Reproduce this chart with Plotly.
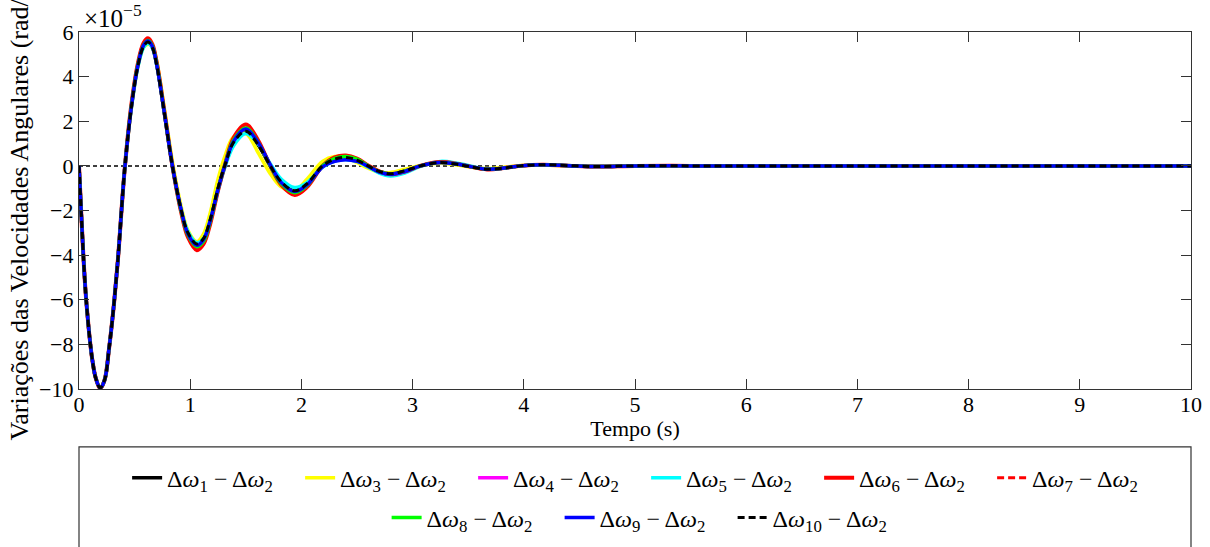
import plotly.graph_objects as go

# Time base (s)
t = [0, 0.02, 0.04, 0.06, 0.08, 0.10, 0.12, 0.15, 0.19, 0.23, 0.27, 0.31, 0.35, 0.41,
     0.47, 0.53, 0.58, 0.62, 0.66, 0.70, 0.77, 0.84, 0.92, 0.98,
     1.06, 1.12, 1.18, 1.25, 1.31, 1.39, 1.50, 1.61, 1.72, 1.82,
     1.94, 2.05, 2.19, 2.30, 2.40, 2.50, 2.60, 2.70, 2.80, 2.93,
     3.07, 3.25, 3.40, 3.50, 3.67, 3.82, 3.97, 4.17, 4.40, 4.65,
     5.0, 5.5, 6, 7, 8, 9, 10]

# Angular speed deviations relative to machine 2 (x 1e-5 rad/s)
dw1 = [0, -2.1, -4.1, -5.7, -6.9, -7.9, -8.7, -9.5, -9.95, -9.6, -8.2, -6.4, -4.2, -0.2,
       2.6, 4.5, 5.35, 5.55, 5.3, 4.5, 2.3, 0.0, -2.0, -3.0,
       -3.5, -3.25, -2.4, -1.0, 0.0, 1.05, 1.55, 0.95, 0.0, -0.72,
       -1.12, -0.8, 0.0, 0.3, 0.38, 0.26, 0.0, -0.25, -0.35, -0.22,
       0.0, 0.15, 0.07, -0.02, -0.15, -0.1, 0.0, 0.05, 0.01, -0.03,
       0, 0, 0, 0, 0, 0, 0]
dw3 = [0, -2.1, -4.1, -5.7, -6.9, -7.9, -8.7, -9.5, -9.95, -9.6, -8.2, -6.4, -4.2, -0.2,
       2.55, 4.45, 5.3, 5.45, 5.35, 4.65, 2.5, 0.2, -1.85, -2.9,
       -3.4, -3.05, -2.1, -0.6, 0.4, 1.3, 1.45, 0.6, -0.35, -0.95,
       -1.1, -0.6, 0.2, 0.42, 0.38, 0.15, -0.1, -0.28, -0.3, -0.15,
       0.02, 0.12, 0.04, -0.04, -0.12, -0.06, 0.02, 0.04, 0.0, -0.02,
       0, 0, 0, 0, 0, 0, 0]
dw4 = [0, -2.1, -4.1, -5.7, -6.9, -7.9, -8.7, -9.5, -9.95, -9.6, -8.2, -6.4, -4.2, -0.2,
       2.65, 4.55, 5.4, 5.6, 5.38, 4.55, 2.3, 0.0, -2.05, -3.1,
       -3.6, -3.35, -2.5, -1.05, 0.0, 1.12, 1.68, 1.05, 0.0, -0.8,
       -1.18, -0.86, 0.0, 0.32, 0.4, 0.28, 0.0, -0.26, -0.36, -0.23,
       0.0, 0.15, 0.08, -0.01, -0.15, -0.1, 0.0, 0.05, 0.01, -0.03,
       0, 0, 0, 0, 0, 0, 0]
dw5 = [0, -2.1, -4.1, -5.7, -6.9, -7.9, -8.7, -9.5, -9.95, -9.6, -8.2, -6.4, -4.2, -0.2,
       2.55, 4.45, 5.3, 5.5, 5.3, 4.5, 2.3, 0.0, -2.0, -2.95,
       -3.45, -3.25, -2.45, -1.1, -0.1, 0.9, 1.45, 1.0, 0.1, -0.6,
       -0.97, -0.75, -0.05, 0.22, 0.28, 0.2, -0.05, -0.32, -0.45, -0.32,
       -0.02, 0.2, 0.12, 0.02, -0.14, -0.1, 0.0, 0.05, 0.02, -0.02,
       0, 0, 0, 0, 0, 0, 0]
dw6 = [0, -2.1, -4.1, -5.7, -6.9, -7.9, -8.7, -9.5, -9.98, -9.6, -8.2, -6.4, -4.2, -0.2,
       2.7, 4.6, 5.5, 5.72, 5.45, 4.6, 2.35, 0.0, -2.1, -3.2,
       -3.78, -3.5, -2.6, -1.1, 0.0, 1.25, 1.85, 1.15, 0.0, -0.85,
       -1.3, -0.95, 0.0, 0.38, 0.46, 0.33, 0.02, -0.25, -0.38, -0.25,
       0.0, 0.17, 0.09, -0.01, -0.16, -0.1, 0.0, 0.05, 0.01, -0.03,
       0, 0, 0, 0, 0, 0, 0]
dw7 = [0, -2.1, -4.1, -5.7, -6.9, -7.9, -8.7, -9.5, -9.97, -9.6, -8.2, -6.4, -4.2, -0.2,
       2.7, 4.6, 5.48, 5.68, 5.42, 4.58, 2.33, 0.0, -2.08, -3.15,
       -3.72, -3.45, -2.56, -1.08, 0.0, 1.2, 1.78, 1.1, 0.0, -0.82,
       -1.25, -0.92, 0.0, 0.36, 0.44, 0.31, 0.01, -0.25, -0.37, -0.24,
       0.0, 0.16, 0.08, -0.01, -0.15, -0.1, 0.0, 0.05, 0.01, -0.03,
       0, 0, 0, 0, 0, 0, 0]
dw8 = [0, -2.1, -4.1, -5.7, -6.9, -7.9, -8.7, -9.5, -9.95, -9.6, -8.2, -6.4, -4.2, -0.2,
       2.65, 4.55, 5.4, 5.62, 5.38, 4.55, 2.3, 0.0, -2.05, -3.1,
       -3.62, -3.38, -2.5, -1.05, 0.0, 1.15, 1.7, 1.05, 0.0, -0.8,
       -1.2, -0.88, 0.0, 0.33, 0.42, 0.3, 0.0, -0.26, -0.36, -0.23,
       0.0, 0.15, 0.08, -0.01, -0.15, -0.1, 0.0, 0.05, 0.01, -0.03,
       0, 0, 0, 0, 0, 0, 0]
dw9 = [0, -2.1, -4.1, -5.7, -6.9, -7.9, -8.7, -9.5, -9.95, -9.6, -8.2, -6.4, -4.2, -0.2,
       2.6, 4.5, 5.4, 5.6, 5.35, 4.5, 2.3, 0.0, -2.0, -3.05,
       -3.56, -3.3, -2.45, -1.05, -0.02, 1.1, 1.65, 1.05, 0.05, -0.75,
       -1.15, -0.85, -0.05, 0.2, 0.28, 0.2, -0.02, -0.28, -0.38, -0.25,
       0.0, 0.15, 0.08, -0.01, -0.15, -0.1, 0.0, 0.05, 0.01, -0.03,
       0, 0, 0, 0, 0, 0, 0]
dw10 = [0, -2.1, -4.1, -5.7, -6.9, -7.9, -8.7, -9.5, -9.95, -9.6, -8.2, -6.4, -4.2, -0.2,
        2.6, 4.5, 5.35, 5.55, 5.3, 4.5, 2.3, 0.0, -2.0, -3.0,
        -3.5, -3.25, -2.4, -1.0, 0.0, 1.05, 1.55, 0.95, 0.0, -0.72,
        -1.12, -0.8, 0.0, 0.3, 0.38, 0.26, 0.0, -0.25, -0.35, -0.22,
        0.0, 0.15, 0.07, -0.02, -0.15, -0.1, 0.0, 0.05, 0.01, -0.03,
        0, 0, 0, 0, 0, 0, 0]

series = [
    ("1", dw1, "#000000", "solid", 3.5, "legend"),
    ("3", dw3, "#ffff00", "solid", 3.5, "legend"),
    ("4", dw4, "#ff00ff", "solid", 3.5, "legend"),
    ("5", dw5, "#00ffff", "solid", 3.5, "legend"),
    ("6", dw6, "#ff0000", "solid", 4, "legend"),
    ("7", dw7, "#ff0000", "7px,4px", 3, "legend"),
    ("8", dw8, "#00ff00", "solid", 3.5, "legend2"),
    ("9", dw9, "#0000ff", "solid", 3.5, "legend2"),
    ("10", dw10, "#000000", "7px,4px", 3, "legend2"),
]

FONT = "Liberation Serif"

fig = go.Figure()
for idx, vals, color, dash, width, leg in series:
    fig.add_trace(go.Scatter(
        x=t, y=vals, mode="lines",
        line=dict(color=color, width=width, dash=dash, shape="spline", smoothing=1.0),
        name=f"Δ<i>ω</i><sub>{idx}</sub> − Δ<i>ω</i><sub>2</sub>",
        legend=leg,
    ))

# Reference zero line
fig.add_shape(type="line", xref="x", yref="y", x0=0, x1=10, y0=0, y1=0,
              line=dict(color="#000000", width=1.5, dash="4px,3px"), layer="below")

# Frame around the legend area
fig.add_shape(type="rect", xref="paper", yref="paper", x0=0, x1=1, y0=-0.47, y1=-0.162,
              line=dict(color="#333333", width=1.2), fillcolor="rgba(0,0,0,0)")

fig.add_annotation(xref="paper", yref="paper", x=0.003, y=0.995, yanchor="bottom",
                   xanchor="left", showarrow=False, text="×10<sup>−5</sup>",
                   font=dict(family=FONT, size=25, color="#000000"))

axis_common = dict(
    showline=True, linecolor="#333333", linewidth=1.2, mirror="ticks",
    ticks="inside", ticklen=10, tickcolor="#333333", tickwidth=1.2,
    showgrid=False, zeroline=False,
    tickfont=dict(family=FONT, size=22, color="#000000"),
)

leg_common = dict(orientation="h", x=0.51, xanchor="center", yanchor="middle",
                  bgcolor="rgba(0,0,0,0)", borderwidth=0,
                  font=dict(family=FONT, size=24, color="#000000"),
                  itemwidth=30, tracegroupgap=0, entrywidth=128)

fig.update_layout(
    width=1210, height=547,
    margin=dict(l=79, r=19, t=32, b=158, autoexpand=False),
    paper_bgcolor="white", plot_bgcolor="white",
    font=dict(family=FONT, size=22, color="#000000"),
    showlegend=True,
    xaxis=dict(range=[0, 10], dtick=1, ticklabelstandoff=-5,
               title=dict(text="Tempo (s)", font=dict(family=FONT, size=22), standoff=0),
               **axis_common),
    yaxis=dict(range=[-10, 6], dtick=2,
               title=dict(text="Variações das Velocidades Angulares (rad/s)",
                          font=dict(family=FONT, size=26), standoff=2),
               **axis_common),
    legend=dict(y=-0.25, **leg_common),
    legend2=dict(y=-0.361, **leg_common),
)

fig.write_html("out.html")
